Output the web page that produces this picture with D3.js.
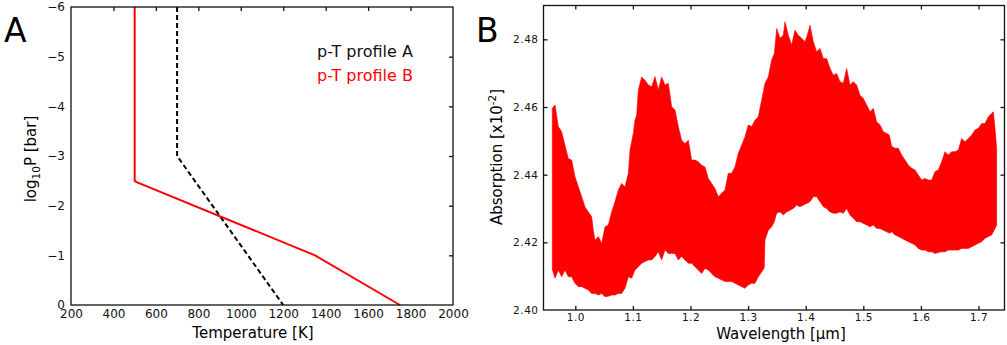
<!DOCTYPE html>
<html>
<head>
<meta charset="utf-8">
<script src="https://cdn.jsdelivr.net/npm/d3@7"></script>
<style>
  body { margin: 0; background: #fff; }
  svg { font-family: "DejaVu Sans", sans-serif; }
</style>
</head>
<body>
<div class="chart"></div>
<script>
// ---- data: panel A (p-T profiles) ----
let tempA = [700, 700, 1200];
let logPA = [-6, -3, 0];
let tempB = [500, 500, 512, 1350, 1750];
let logPB = [-6, -2.5, -2.47, -1, 0];
let tempTicks = [200, 400, 600, 800, 1000, 1200, 1400, 1600, 1800, 2000];
let pressTicks = [-6, -5, -4, -3, -2, -1, 0];
let legendLabels = ["p-T profile A", "p-T profile B"];

// ---- data: panel B (spectrum envelope) ----
let upperEnvelope = [
  [0.9601, 2.4596], [0.9648, 2.4606], [0.9705, 2.4542], [0.9763, 2.4527], [0.9821, 2.4487],
  [0.9879, 2.4448], [0.9937, 2.4443], [0.9995, 2.4394], [1.0053, 2.4364], [1.0111, 2.4335],
  [1.0168, 2.4305], [1.0226, 2.4290], [1.0284, 2.4276], [1.0313, 2.4236], [1.0342, 2.4207],
  [1.0400, 2.4217], [1.0458, 2.4197], [1.0516, 2.4246], [1.0573, 2.4251], [1.0631, 2.4290],
  [1.0689, 2.4320], [1.0747, 2.4355], [1.0805, 2.4374], [1.0863, 2.4364], [1.0921, 2.4404],
  [1.0950, 2.4473], [1.1007, 2.4522], [1.1036, 2.4561], [1.1065, 2.4576], [1.1094, 2.4650],
  [1.1152, 2.4689], [1.1210, 2.4679], [1.1268, 2.4665], [1.1326, 2.4660], [1.1384, 2.4690],
  [1.1441, 2.4650], [1.1499, 2.4689], [1.1557, 2.4665], [1.1615, 2.4670], [1.1673, 2.4601],
  [1.1731, 2.4591], [1.1788, 2.4542], [1.1846, 2.4502], [1.1904, 2.4492], [1.1962, 2.4502],
  [1.2020, 2.4443], [1.2078, 2.4443], [1.2136, 2.4438], [1.2193, 2.4428], [1.2251, 2.4423],
  [1.2309, 2.4389], [1.2367, 2.4374], [1.2425, 2.4359], [1.2483, 2.4335], [1.2541, 2.4345],
  [1.2598, 2.4355], [1.2656, 2.4404], [1.2714, 2.4404], [1.2772, 2.4423], [1.2830, 2.4463],
  [1.2888, 2.4487], [1.2946, 2.4512], [1.3003, 2.4547], [1.3061, 2.4542], [1.3119, 2.4561],
  [1.3177, 2.4571], [1.3235, 2.4620], [1.3293, 2.4670], [1.3351, 2.4689], [1.3409, 2.4739],
  [1.3455, 2.4758], [1.3496, 2.4832], [1.3554, 2.4803], [1.3611, 2.4812], [1.3640, 2.4852],
  [1.3698, 2.4812], [1.3756, 2.4783], [1.3814, 2.4827], [1.3872, 2.4812], [1.3930, 2.4803],
  [1.3988, 2.4793], [1.4045, 2.4822], [1.4074, 2.4842], [1.4132, 2.4793], [1.4190, 2.4763],
  [1.4248, 2.4773], [1.4306, 2.4743], [1.4364, 2.4743], [1.4422, 2.4714], [1.4479, 2.4694],
  [1.4537, 2.4699], [1.4595, 2.4675], [1.4653, 2.4670], [1.4711, 2.4714], [1.4769, 2.4665],
  [1.4827, 2.4675], [1.4884, 2.4665], [1.4942, 2.4635], [1.5000, 2.4625], [1.5058, 2.4606],
  [1.5116, 2.4586], [1.5174, 2.4596], [1.5232, 2.4556], [1.5290, 2.4547], [1.5347, 2.4527],
  [1.5405, 2.4522], [1.5452, 2.4517], [1.5492, 2.4483], [1.5550, 2.4478], [1.5608, 2.4478],
  [1.5666, 2.4458], [1.5724, 2.4443], [1.5782, 2.4428], [1.5840, 2.4419], [1.5897, 2.4414],
  [1.5955, 2.4399], [1.6013, 2.4384], [1.6071, 2.4389], [1.6129, 2.4384], [1.6187, 2.4384],
  [1.6245, 2.4409], [1.6302, 2.4414], [1.6360, 2.4438], [1.6418, 2.4468], [1.6476, 2.4458],
  [1.6534, 2.4468], [1.6592, 2.4468], [1.6650, 2.4473], [1.6707, 2.4507], [1.6765, 2.4497],
  [1.6823, 2.4507], [1.6881, 2.4517], [1.6939, 2.4532], [1.6997, 2.4537], [1.7055, 2.4551],
  [1.7113, 2.4551], [1.7170, 2.4571], [1.7228, 2.4581], [1.7257, 2.4586], [1.7286, 2.4537],
  [1.7315, 2.4478]
];
let lowerEnvelope = [
  [0.9601, 2.4120], [0.9648, 2.4094], [0.9705, 2.4118], [0.9763, 2.4098], [0.9821, 2.4118],
  [0.9879, 2.4098], [0.9937, 2.4098], [0.9995, 2.4079], [1.0053, 2.4069], [1.0111, 2.4069],
  [1.0168, 2.4064], [1.0226, 2.4059], [1.0284, 2.4049], [1.0342, 2.4049], [1.0400, 2.4044],
  [1.0458, 2.4049], [1.0516, 2.4039], [1.0573, 2.4041], [1.0631, 2.4044], [1.0689, 2.4044],
  [1.0747, 2.4049], [1.0805, 2.4049], [1.0863, 2.4064], [1.0921, 2.4098], [1.0979, 2.4094],
  [1.1036, 2.4118], [1.1094, 2.4128], [1.1152, 2.4138], [1.1210, 2.4143], [1.1268, 2.4148],
  [1.1326, 2.4148], [1.1384, 2.4158], [1.1441, 2.4172], [1.1499, 2.4148], [1.1557, 2.4177],
  [1.1615, 2.4167], [1.1673, 2.4167], [1.1731, 2.4167], [1.1788, 2.4148], [1.1846, 2.4158],
  [1.1904, 2.4148], [1.1962, 2.4138], [1.2020, 2.4138], [1.2078, 2.4128], [1.2136, 2.4118],
  [1.2193, 2.4108], [1.2251, 2.4123], [1.2309, 2.4118], [1.2367, 2.4108], [1.2425, 2.4098],
  [1.2483, 2.4094], [1.2541, 2.4089], [1.2598, 2.4084], [1.2656, 2.4084], [1.2714, 2.4084],
  [1.2772, 2.4079], [1.2830, 2.4074], [1.2888, 2.4069], [1.2946, 2.4064], [1.3003, 2.4074],
  [1.3061, 2.4079], [1.3119, 2.4079], [1.3177, 2.4098], [1.3235, 2.4112], [1.3280, 2.4125],
  [1.3293, 2.4207], [1.3351, 2.4236], [1.3409, 2.4246], [1.3455, 2.4261], [1.3496, 2.4286],
  [1.3554, 2.4290], [1.3611, 2.4281], [1.3669, 2.4290], [1.3727, 2.4295], [1.3785, 2.4300],
  [1.3843, 2.4310], [1.3901, 2.4305], [1.3959, 2.4310], [1.4016, 2.4315], [1.4074, 2.4320],
  [1.4132, 2.4335], [1.4190, 2.4335], [1.4248, 2.4320], [1.4306, 2.4305], [1.4364, 2.4300],
  [1.4422, 2.4290], [1.4479, 2.4286], [1.4537, 2.4286], [1.4595, 2.4290], [1.4653, 2.4286],
  [1.4711, 2.4300], [1.4769, 2.4281], [1.4827, 2.4271], [1.4884, 2.4261], [1.4942, 2.4261],
  [1.5000, 2.4256], [1.5058, 2.4251], [1.5116, 2.4246], [1.5174, 2.4251], [1.5232, 2.4241],
  [1.5290, 2.4241], [1.5347, 2.4236], [1.5405, 2.4231], [1.5452, 2.4227], [1.5492, 2.4231],
  [1.5550, 2.4222], [1.5608, 2.4217], [1.5666, 2.4212], [1.5724, 2.4207], [1.5782, 2.4202],
  [1.5840, 2.4197], [1.5897, 2.4192], [1.5955, 2.4182], [1.6013, 2.4177], [1.6071, 2.4177],
  [1.6129, 2.4172], [1.6187, 2.4172], [1.6245, 2.4167], [1.6302, 2.4170], [1.6360, 2.4172],
  [1.6418, 2.4172], [1.6476, 2.4177], [1.6534, 2.4177], [1.6592, 2.4177], [1.6650, 2.4177],
  [1.6707, 2.4182], [1.6765, 2.4182], [1.6823, 2.4182], [1.6881, 2.4187], [1.6939, 2.4192],
  [1.6997, 2.4197], [1.7055, 2.4202], [1.7113, 2.4212], [1.7170, 2.4217], [1.7228, 2.4222],
  [1.7286, 2.4241], [1.7315, 2.4251]
];
let waveTicks = [1.0, 1.1, 1.2, 1.3, 1.4, 1.5, 1.6, 1.7];
let absTicks = [2.40, 2.42, 2.44, 2.46, 2.48];

// Set up svg
let svgWidth = 1007;
let svgHeight = 345;

let svg = d3.select(".chart")
  .append("svg")
  .attr("width", svgWidth)
  .attr("height", svgHeight);

// ================= Panel A =================
let boxA = {left: 71, right: 453, top: 7, bottom: 305};

let xA = d3.scaleLinear().domain([200, 2000]).range([boxA.left, boxA.right]);
let yA = d3.scaleLinear().domain([0, -6]).range([boxA.bottom, boxA.top]);

let lineA = d3.line()
  .x(d => xA(d[0]))
  .y(d => yA(d[1]));

// profile A (black dashed)
svg.append("path")
  .attr("d", lineA(d3.zip(tempA, logPA)))
  .attr("fill", "none")
  .attr("stroke", "#000")
  .attr("stroke-width", 2)
  .attr("stroke-dasharray", "5,3");

// profile B (red)
svg.append("path")
  .attr("d", lineA(d3.zip(tempB, logPB)))
  .attr("fill", "none")
  .attr("stroke", "#ff0000")
  .attr("stroke-width", 2);

// frame
svg.append("rect")
  .attr("x", boxA.left).attr("y", boxA.top)
  .attr("width", boxA.right - boxA.left).attr("height", boxA.bottom - boxA.top)
  .attr("fill", "none").attr("stroke", "#111").attr("stroke-width", 1.3);

// tick labels
let axA_bottom = svg.append("g")
  .attr("transform", `translate(0, ${boxA.bottom})`)
  .call(d3.axisBottom(xA).tickValues(tempTicks).tickSize(0).tickPadding(4.5).tickFormat(d3.format("d")));
let axA_left = svg.append("g")
  .attr("transform", `translate(${boxA.left}, 0)`)
  .call(d3.axisLeft(yA).tickValues(pressTicks).tickSize(0).tickPadding(6)
    .tickFormat(d => d < 0 ? "\u2212" + Math.abs(d) : d));

// inward ticks on top and right
let axA_top = svg.append("g")
  .attr("transform", `translate(0, ${boxA.top})`)
  .call(d3.axisTop(xA).tickValues(tempTicks.slice(1, -1)).tickSize(-4).tickFormat(""));
let axA_right = svg.append("g")
  .attr("transform", `translate(${boxA.right}, 0)`)
  .call(d3.axisRight(yA).tickValues(pressTicks.slice(1, -1)).tickSize(-4).tickFormat(""));

[axA_bottom, axA_left, axA_top, axA_right].forEach(g => {
  g.select(".domain").remove();
  g.selectAll("text").style("font-family", "DejaVu Sans").style("font-size", "12px").attr("fill", "#111");
  g.selectAll("line").attr("stroke", "#111").attr("stroke-width", 1.3);
});

// axis titles
svg.append("text")
  .attr("x", 253).attr("y", 338)
  .attr("text-anchor", "middle")
  .style("font-size", "15px")
  .text("Temperature [K]");

let yTitleA = svg.append("text")
  .attr("transform", "translate(36, 159) rotate(-90)")
  .attr("text-anchor", "middle")
  .style("font-size", "15px");
yTitleA.append("tspan").text("log");
yTitleA.append("tspan").attr("dy", 4).style("font-size", "10.5px").text("10");
yTitleA.append("tspan").attr("dy", -4).text("P [bar]");

// legend
svg.selectAll(".legendA")
  .data(legendLabels)
  .enter().append("text")
  .attr("class", "legendA")
  .attr("x", 317)
  .attr("y", (d, i) => 57 + i * 24)
  .style("font-size", "16px")
  .attr("fill", (d, i) => i === 0 ? "#111" : "#ff0000")
  .text(d => d);

// panel letter
svg.append("text")
  .attr("x", 4).attr("y", 42)
  .style("font-size", "33px")
  .text("A");

// ================= Panel B =================
let boxB = {left: 543.5, right: 1004.5, top: 5.5, bottom: 310};

let xB = d3.scaleLinear().domain([0.9448, 1.7451]).range([boxB.left, boxB.right]);
let yB = d3.scaleLinear().domain([2.40, 2.49]).range([boxB.bottom, boxB.top]);

let lineB = d3.line()
  .x(d => xB(d[0]))
  .y(d => yB(d[1]));

// spectrum band: upper envelope left->right, lower envelope back
let band = upperEnvelope.concat(lowerEnvelope.slice().reverse());
svg.append("path")
  .attr("d", lineB(band) + "Z")
  .attr("fill", "#ff0000")
  .attr("stroke", "#ff0000")
  .attr("stroke-width", 0.6)
  .attr("stroke-linejoin", "miter");

svg.append("rect")
  .attr("x", boxB.left).attr("y", boxB.top)
  .attr("width", boxB.right - boxB.left).attr("height", boxB.bottom - boxB.top)
  .attr("fill", "none").attr("stroke", "#111").attr("stroke-width", 1.3);

let axB_bottom = svg.append("g")
  .attr("transform", `translate(0, ${boxB.bottom})`)
  .call(d3.axisBottom(xB).tickValues(waveTicks).tickSize(0).tickPadding(3.5).tickFormat(d3.format(".1f")));
let axB_left = svg.append("g")
  .attr("transform", `translate(${boxB.left}, 0)`)
  .call(d3.axisLeft(yB).tickValues(absTicks).tickSize(0).tickPadding(5).tickFormat(d3.format(".2f")));

let axB_bticks = svg.append("g")
  .attr("transform", `translate(0, ${boxB.bottom})`)
  .call(d3.axisBottom(xB).tickValues(waveTicks).tickSize(-4).tickFormat(""));
let axB_top = svg.append("g")
  .attr("transform", `translate(0, ${boxB.top})`)
  .call(d3.axisTop(xB).tickValues(waveTicks).tickSize(-4).tickFormat(""));
let axB_lticks = svg.append("g")
  .attr("transform", `translate(${boxB.left}, 0)`)
  .call(d3.axisLeft(yB).tickValues(absTicks.slice(1)).tickSize(-4).tickFormat(""));
let axB_right = svg.append("g")
  .attr("transform", `translate(${boxB.right}, 0)`)
  .call(d3.axisRight(yB).tickValues(absTicks.slice(1)).tickSize(-4).tickFormat(""));

[axB_bottom, axB_left, axB_bticks, axB_top, axB_lticks, axB_right].forEach(g => {
  g.select(".domain").remove();
  g.selectAll("text").style("font-family", "DejaVu Sans").style("font-size", "10.5px")
    .style("letter-spacing", "0.5px").attr("fill", "#111");
  g.selectAll("line").attr("stroke", "#111").attr("stroke-width", 1.3);
});

svg.append("text")
  .attr("x", 781).attr("y", 339)
  .attr("text-anchor", "middle")
  .style("font-size", "15px")
  .text("Wavelength [\u03bcm]");

let yTitleB = svg.append("text")
  .attr("transform", "translate(502, 157) rotate(-90)")
  .attr("text-anchor", "middle")
  .style("font-size", "15px");
yTitleB.append("tspan").text("Absorption [x10");
yTitleB.append("tspan").attr("dy", -6).style("font-size", "10.5px").text("-2");
yTitleB.append("tspan").attr("dy", 6).text("]");

svg.append("text")
  .attr("x", 476).attr("y", 42)
  .style("font-size", "33px")
  .text("B");
</script>
</body>
</html>
